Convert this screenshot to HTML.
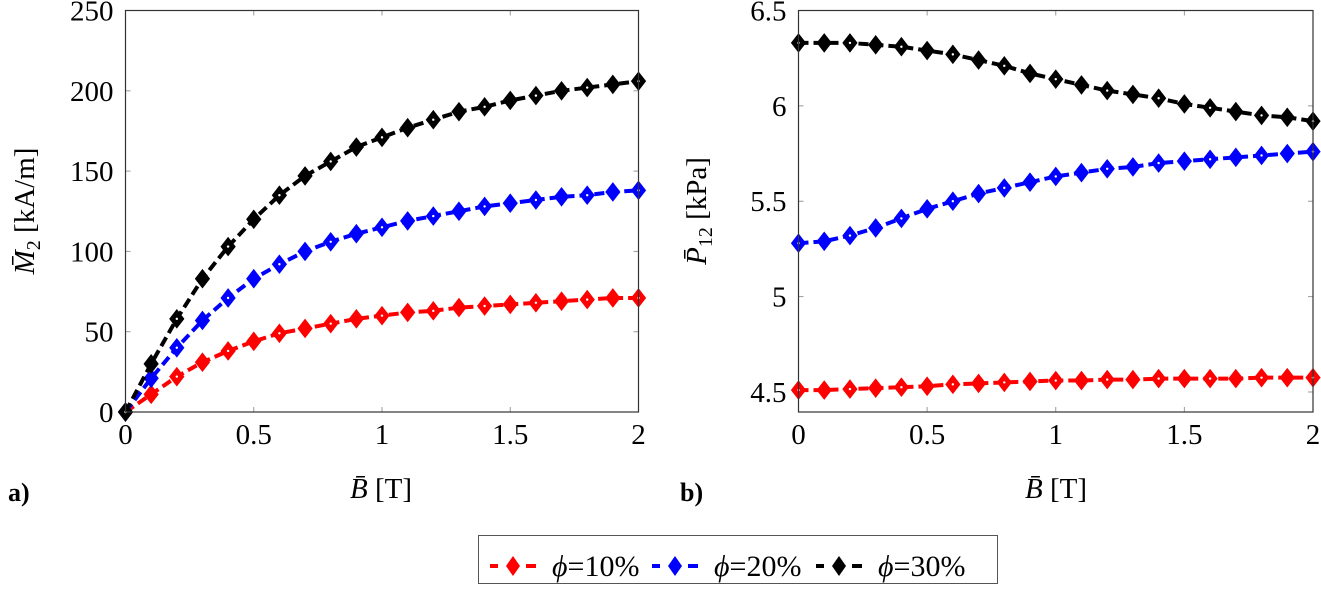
<!DOCTYPE html>
<html><head><meta charset="utf-8"><style>
html,body{margin:0;padding:0;background:#fff;}
svg, svg text{font-family:"Liberation Serif","DejaVu Serif",serif;}
</style></head><body>
<svg id="chart" width="1321" height="593" viewBox="0 0 1321 593" xmlns="http://www.w3.org/2000/svg" font-family="Liberation Serif, serif">
<g id="left"></g>
<g id="right"></g>
<text x="8" y="501" font-size="26" font-weight="bold">a)</text>
<text x="680" y="501" font-size="26" font-weight="bold">b)</text>
<text x="381" y="498" font-size="29" text-anchor="middle"><tspan font-style="italic">B̄</tspan> [T]</text>
<text x="1056" y="498" font-size="29" text-anchor="middle"><tspan font-style="italic">B̄</tspan> [T]</text>
<text transform="translate(34,211) rotate(-90)" font-size="29" text-anchor="middle"><tspan font-style="italic">M̄</tspan><tspan font-size="20" dy="6">2</tspan><tspan dy="-6"> [kA/m]</tspan></text>
<text transform="translate(706,211) rotate(-90)" font-size="29" text-anchor="middle"><tspan font-style="italic">P̄</tspan><tspan font-size="20" dy="6">12</tspan><tspan dy="-6"> [kPa]</tspan></text>
<g id="legend">
<rect x="478.5" y="535.5" width="519" height="48" fill="#fff" stroke="#555" stroke-width="1"/>
</g>
</svg>
<script>
const xValues=[0,0.1,0.2,0.3,0.4,0.5,0.6,0.7,0.8,0.9,1,1.1,1.2,1.3,1.4,1.5,1.6,1.7,1.8,1.9,2];
const mRed=[0,11,22,31,38,44,49,52,55,58,60,62,63,65,66,67,68,69,70,71,71];
const mBlue=[0,21,40,57,71,83,92,100,106,111,115,119,122,125,128,130,132,134,135,137,138];
const mBlack=[0,30,58,83,103,120,135,147,156,165,171,177,182,187,190,194,197,200,202,204,206];
const pRed=[4.51,4.51,4.515,4.52,4.525,4.53,4.54,4.545,4.55,4.555,4.56,4.56,4.565,4.565,4.57,4.57,4.57,4.57,4.575,4.575,4.575];
const pBlue=[5.28,5.29,5.32,5.36,5.41,5.46,5.50,5.54,5.57,5.60,5.63,5.65,5.67,5.68,5.70,5.71,5.72,5.73,5.74,5.75,5.76];
const pBlack=[6.33,6.33,6.33,6.32,6.31,6.29,6.27,6.24,6.21,6.17,6.14,6.11,6.08,6.06,6.04,6.01,5.99,5.97,5.95,5.94,5.92];
const xTicks=[0,0.5,1,1.5,2];
const xTickLabels=["0","0.5","1","1.5","2"];
const mTicks=[0,50,100,150,200,250];
const pTicks=[4.5,5,5.5,6,6.5];
const pTickLabels=["4.5","5","5.5","6","6.5"];
const seriesNames=["phi-10","phi-20","phi-30"];
const legendLabels=["10%","20%","30%"];
const colors=["#ff0000","#0000ff","#000000"];
const NS="http://www.w3.org/2000/svg";
function mk(tag,attrs,parent){const e=document.createElementNS(NS,tag);for(const k in attrs)e.setAttribute(k,attrs[k]);parent.appendChild(e);return e;}
function panel(g,x0,x1,yTop,yBot,ymin,ymax,yticks,ylabels,series,prefix){
  const sx=v=>x0+(v-0)/(2-0)*(x1-x0);
  const sy=v=>yBot-(v-ymin)/(ymax-ymin)*(yBot-yTop);
  xTicks.forEach((t,i)=>{
    const x=sx(t);
    const l=mk('line',{x1:x,x2:x,y1:yBot,y2:yBot-5,stroke:'#999','stroke-width':1},g);
    
    
    mk('line',{x1:x,x2:x,y1:yTop,y2:yTop+5,stroke:'#999','stroke-width':1},g);
    const tx=mk('text',{x:x,y:yBot+32,'font-size':29,'text-anchor':'middle'},g);
    tx.textContent=xTickLabels[i];
    
    
  });
  yticks.forEach((t,i)=>{
    const y=sy(t);
    mk('line',{x1:x0,x2:x0+5,y1:y,y2:y,stroke:'#999','stroke-width':1},g);
    mk('line',{x1:x1,x2:x1-5,y1:y,y2:y,stroke:'#999','stroke-width':1},g);
    const tx=mk('text',{x:x0-12,y:y+10,'font-size':29,'text-anchor':'end'},g);
    tx.textContent=ylabels[i];
    
    
  });
  series.forEach((vals,si)=>{
    const c=colors[si];
    const pts=vals.map((v,i)=>sx(xValues[i])+','+sy(v)).join(' ');
    const pl=mk('polyline',{points:pts,fill:'none',stroke:c,'stroke-width':4,'stroke-dasharray':'10,5'},g);
    
    
    vals.forEach((v,i)=>{
      const x=sx(xValues[i]),y=sy(v);
      const d=mk('polygon',{points:`${x},${y-9} ${x+7},${y} ${x},${y+9} ${x-7},${y}`,fill:c,stroke:c,'stroke-width':1},g);
      
      
      if(i%2===0) mk('circle',{cx:x,cy:y,r:1.2,fill:'#fff'},g);
    });
  });
  const fr=mk('rect',{x:x0,y:yTop,width:x1-x0,height:yBot-yTop,fill:'none',stroke:'#333','stroke-width':1.2},g);
  
  
}
panel(document.getElementById('left'),125.5,638.5,10.5,412,0,250,mTicks,mTicks.map(String),[mRed,mBlue,mBlack],'a');
panel(document.getElementById('right'),798.5,1313,10.5,412,4.395,6.5,pTicks,pTickLabels,[pRed,pBlue,pBlack],'b');
const lg=document.getElementById('legend');
const lx=[490,652,816];
legendLabels.forEach((lab,i)=>{
  const x=lx[i],y=566,c=colors[i];
  mk('line',{x1:x,x2:x+8,y1:y,y2:y,stroke:c,'stroke-width':4},lg);
  mk('line',{x1:x+36,x2:x+46,y1:y,y2:y,stroke:c,'stroke-width':4},lg);
  mk('polygon',{points:`${x+23},${y-10} ${x+30},${y} ${x+23},${y+10} ${x+16},${y}`,fill:c},lg);
  const t=mk('text',{x:x+62,y:y+10,'font-size':30},lg);
  t.innerHTML='<tspan font-style="italic">ϕ</tspan>='+lab;
  
  
});
</script>
</body></html>
